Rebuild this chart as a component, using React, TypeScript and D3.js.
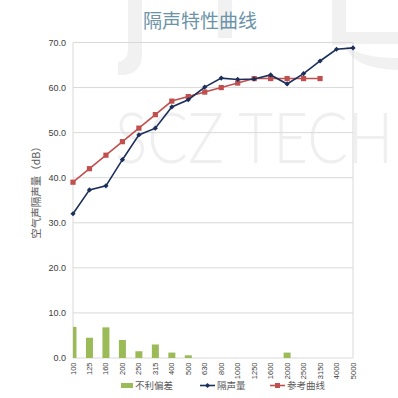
import React from "react";
import * as d3 from "d3";

const categories = ["100","125","160","200","250","315","400","500","630","800","1000","1250","1600","2000","2500","3150","4000","5000"];
const deviation = [6.9,4.5,6.8,4.0,1.5,3.0,1.2,0.6,0,0,0,0,0,1.2,0,0,0,0];
const measured = [32.0,37.3,38.2,44.0,49.5,51.0,55.7,57.3,60.1,62.1,61.8,61.9,62.8,60.8,63.1,65.9,68.5,68.8];
const reference = [39,42,45,48,51,54,57,58,59,60,61,62,62,62,62,62];
const yTicks = [0,10,20,30,40,50,60,70];

const title = "隔声特性曲线";
const yLabel = "空气声隔声量（dB）";
const legendItems = ["不利偏差","隔声量","参考曲线"];

const W = 398, H = 398;
const L = 73, R = 353, T = 42.5, B = 358;

export default function App() {
  const x = d3.scalePoint<string>().domain(categories).range([L, R]);
  const y = d3.scaleLinear().domain([0, 70]).range([B, T]);
  const line = d3.line<number>().x((_, i) => x(categories[i])!).y(d => y(d));
  const font = "'Liberation Sans', Arial, sans-serif";
  const cjk = "'Noto Sans CJK SC', sans-serif";
  const gray = "#595959";
  const navy = "#1b2f5b";
  const red = "#c0504d";
  const green = "#9bbb59";
  return (
    <svg width={W} height={H} style={{ position: "absolute", left: 0, top: 0, background: "#fff" }}>
      <defs>
        <clipPath id="plot"><rect x={L} y={T} width={R - L} height={B - T} /></clipPath>
      </defs>
      {/* watermark */}
      <g fill="#f1f1f1">
        <path d="M128,0 L142,0 L142,55 Q142,72 125,75 L118,75 L118,62 Q128,60 128,50 Z" />
        <rect x={218} y={0} width={14} height={38} />
        <rect x={332} y={0} width={14} height={45} />
        <rect x={332} y={32} width={66} height={12} />
        <path d="M346,45 Q350,68 398,70 L398,58 Q360,58 346,45 Z" />
      </g>
      <text transform="translate(115,163) scale(0.86,1)" fontFamily="Lato, sans-serif" fontWeight={300} fontSize={70} fill="#efefef">SCZ TECH</text>

      {/* title */}
      <text x={200} y={28} textAnchor="middle" fontFamily={cjk} fontSize={19} fill="#6b94a8">{title}</text>

      {/* gridlines */}
      {yTicks.map(t => (
        <line key={t} x1={L} x2={R} y1={y(t)} y2={y(t)} stroke="#d9d9d9" strokeWidth={1} />
      ))}
      <line x1={L} x2={L} y1={T} y2={B} stroke="#d9d9d9" />
      <line x1={R} x2={R} y1={T} y2={B} stroke="#d9d9d9" />

      {/* bars */}
      <g clipPath="url(#plot)">
        {deviation.map((d, i) => d > 0 ? (
          <rect key={i} x={x(categories[i])! - 3.5} y={y(d)} width={7} height={y(0) - y(d)} fill={green} />
        ) : null)}
      </g>

      {/* reference line */}
      <path d={line(reference) || ""} fill="none" stroke={red} strokeWidth={1.6} />
      {reference.map((v, i) => (
        <rect key={i} x={x(categories[i])! - 2.6} y={y(v) - 2.6} width={5.2} height={5.2} fill={red} />
      ))}
      {/* measured line */}
      <path d={line(measured) || ""} fill="none" stroke={navy} strokeWidth={1.6} />
      {measured.map((v, i) => {
        const cx = x(categories[i])!, cy = y(v);
        return <path key={i} d={`M${cx},${cy - 2.6}L${cx + 2.6},${cy}L${cx},${cy + 2.6}L${cx - 2.6},${cy}Z`} fill={navy} />;
      })}

      {/* y tick labels */}
      {yTicks.map(t => (
        <text key={t} x={66} y={y(t) + 3} textAnchor="end" fontFamily={font} fontSize={9} fill="#404040">{t.toFixed(1)}</text>
      ))}
      {/* x tick labels */}
      {categories.map(c => (
        <text key={c} transform={`translate(${x(c)! + 2.5},${362.5}) rotate(-90)`} textAnchor="end" fontFamily={font} fontSize={7.5} fill="#404040">{c}</text>
      ))}
      {/* y label */}
      <text transform={`translate(40,190) rotate(-90)`} textAnchor="middle" fontFamily={cjk} fontSize={10.5} fill={gray}>{yLabel}</text>

      {/* legend */}
      <rect x={121} y={383} width={12} height={5} fill={green} />
      <text x={135} y={389} fontFamily={cjk} fontSize={9.5} fill={gray}>{legendItems[0]}</text>
      <line x1={200} x2={215} y1={385.5} y2={385.5} stroke={navy} strokeWidth={1.6} />
      <path d="M207.5,383L210,385.5L207.5,388L205,385.5Z" fill={navy} />
      <text x={217} y={389} fontFamily={cjk} fontSize={9.5} fill={gray}>{legendItems[1]}</text>
      <line x1={270} x2={285} y1={385.5} y2={385.5} stroke={red} strokeWidth={1.6} />
      <rect x={275} y={383} width={5} height={5} fill={red} />
      <text x={287} y={389} fontFamily={cjk} fontSize={9.5} fill={gray}>{legendItems[2]}</text>
    </svg>
  );
}
